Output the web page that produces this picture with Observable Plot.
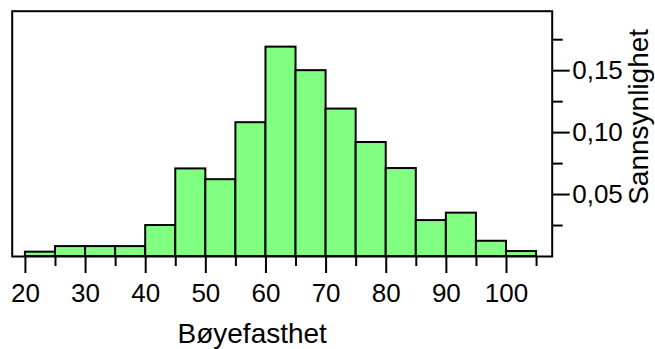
<!DOCTYPE html>
<html>
<head>
<meta charset="utf-8">
<script src="https://cdn.jsdelivr.net/npm/d3@7"></script>
<script src="https://cdn.jsdelivr.net/npm/@observablehq/plot@0.6"></script>
<style>
  html, body { margin: 0; padding: 0; background: #fff; }
</style>
</head>
<body>
<div id="chart"></div>
<script>
// Histogram of bending strength: bin starts (width 5) and probability per bin
const binStart = [20, 25, 30, 35, 40, 45, 50, 55, 60, 65, 70, 75, 80, 85, 90, 95, 100];
const binWidth = 5;
const probability = [0.0035, 0.008, 0.008, 0.008, 0.025, 0.0707, 0.062, 0.108, 0.169, 0.150, 0.119, 0.092, 0.071, 0.029, 0.035, 0.0123, 0.004];

const xMajorTicks = [20, 30, 40, 50, 60, 70, 80, 90, 100];
const xMinorTicks = [25, 35, 45, 55, 65, 75, 85, 95, 105];
const yMajorTicks = [0.05, 0.10, 0.15];
const yMinorTicks = [0.025, 0.075, 0.125, 0.175];

const xTitle = "Bøyefasthet";
const yTitle = "Sannsynlighet";

const bins = binStart.map((s, i) => ({start: s, end: s + binWidth, p: probability[i]}));
const commaFormat = d => d.toFixed(2).replace(".", ",");

const chart = Plot.plot({
  width: 655,
  height: 349,
  marginLeft: 11.7,
  marginRight: 103.3,
  marginTop: 10.7,
  marginBottom: 93,
  style: {fontSize: "26px", fontFamily: "'Liberation Sans', Arial, sans-serif", color: "black", background: "white"},
  x: {domain: [17.8, 107.6]},
  y: {domain: [0, 0.198]},
  marks: [
    Plot.rectY(bins, {x1: "start", x2: "end", y: "p", fill: "#80ff80", stroke: "black", strokeWidth: 2, inset: 0}),
    Plot.frame({stroke: "black", strokeWidth: 2}),
    Plot.axisX({ticks: xMajorTicks, tickSize: 17, tickPadding: 10, strokeWidth: 2, fontSize: 26, tickFormat: d => String(d), label: null}),
    Plot.axisX({ticks: xMinorTicks, tickSize: 10, strokeWidth: 2, tickFormat: () => "", label: null}),
    Plot.axisY({anchor: "right", ticks: yMajorTicks, tickSize: 17, tickPadding: 3, strokeWidth: 2, fontSize: 26, tickFormat: commaFormat, label: null}),
    Plot.axisY({anchor: "right", ticks: yMinorTicks, tickSize: 10, strokeWidth: 2, tickFormat: () => "", label: null}),
    Plot.text([xTitle], {frameAnchor: "bottom", dx: -30, dy: 78, fontSize: 28, textAnchor: "middle", lineAnchor: "middle"}),
    Plot.text([yTitle], {frameAnchor: "right", dx: 87, dy: -17, fontSize: 28, rotate: -90, textAnchor: "middle", lineAnchor: "middle"})
  ]
});
document.getElementById("chart").appendChild(chart);
</script>
</body>
</html>
